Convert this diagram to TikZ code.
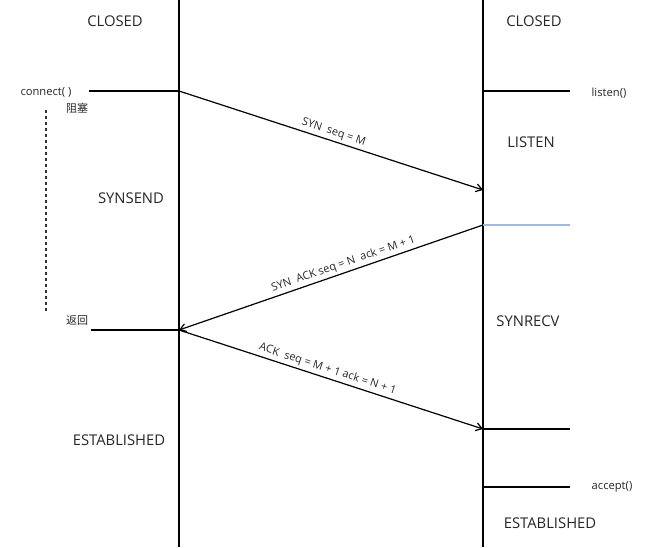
\documentclass[tikz,border=0pt]{standalone}
\usepackage{fontspec}
\setmainfont{Open Sans}
\newfontfamily\cjk{Noto Sans CJK SC}
\usetikzlibrary{arrows.meta}
\begin{document}
\begin{tikzpicture}[x=1pt,y=-1pt,
  life/.style={line width=1.4pt,black},
  tick/.style={line width=1.4pt,black},
  msg/.style={line width=1.2pt,black,-{Straight Barb[length=6pt,width=8pt]}},
  big/.style={font=\fontsize{14.8}{17}\selectfont,text=black!85},
  small/.style={font=\fontsize{11.2}{13}\selectfont,text=black!85},
  lab/.style={font=\fontsize{11}{13}\selectfont,text=black!85,sloped,above,inner sep=2.5pt}]
\useasboundingbox (0,0) rectangle (645,547);
% lifelines
\coordinate (Lt) at (179,0); \coordinate (Lb) at (179,547);
\coordinate (Rt) at (483,0); \coordinate (Rb) at (483,547);
\draw[life] (Lt) -- (Lb);
\draw[life] (Rt) -- (Rb);
% event points
\coordinate (L1) at (179,91);
\coordinate (L2) at (179,330);
\coordinate (R1) at (483,190);
\coordinate (R2) at (483,225);
\coordinate (R3) at (483,429);
% ticks
\coordinate (c0) at (89,91);
\coordinate (r0) at (91,330);
\coordinate (q1a) at (483,91); \coordinate (q1b) at (570,91);
\coordinate (q2b) at (570,225);
\coordinate (q3b) at (570,429);
\coordinate (q4a) at (483,487); \coordinate (q4b) at (570,487);
\draw[tick] (c0) -- (L1);
\draw[tick] (r0) -- (L2);
\draw[tick] (q1a) -- (q1b);
\draw[line width=2pt,color={rgb,255:red,160;green,185;blue,225}] (R2) -- (q2b);
\draw[tick] (R3) -- (q3b);
\draw[tick] (q4a) -- (q4b);
% dotted blocking line
\coordinate (d1) at (46,110); \coordinate (d2) at (46,312);
\draw[line width=1.5pt,black!80,dash pattern=on 3pt off 3pt] (d1) -- (d2);
% messages
\draw[msg] (L1) -- node[lab,pos=0.5]{SYN\ \ seq = M} (R1);
\draw[msg] (R2) -- node[lab,pos=0.45]{SYN\ \ ACK seq = N\ \ ack = M + 1} (L2);
\draw[msg] (L2) -- node[lab,pos=0.48]{ACK\ \ seq = M + 1 ack = N + 1} (R3);
% state labels
\node[big] (closedL) at (115,21) {CLOSED};
\node[big] (closedR) at (534,21) {CLOSED};
\node[big] (listen) at (531,142) {LISTEN};
\node[big] (synsend) at (131,198) {SYNSEND};
\node[big] (synrecv) at (528,321) {SYNRECV};
\node[big] (estL) at (119,440) {ESTABLISHED};
\node[big] (estR) at (550,523) {ESTABLISHED};
% call labels
\node[small] (connect) at (46,92) {connect( )};
\node[small,font=\cjk\fontsize{11}{13}\selectfont] (block) at (77,108) {阻塞};
\node[small,font=\cjk\fontsize{11}{13}\selectfont] (ret) at (77,320) {返回};
\node[small] (listenc) at (609,93) {listen()};
\node[small] (accept) at (612,487) {accept()};
\end{tikzpicture}
\end{document}
